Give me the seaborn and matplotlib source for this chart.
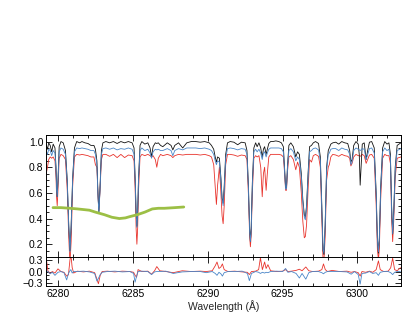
import matplotlib
matplotlib.use("Agg")
import matplotlib.pyplot as plt
from matplotlib.ticker import MultipleLocator, FixedLocator
import seaborn as sns

# spectrum grid (one row per feature group)
wave = [
    6279.20, 6279.30, 6279.38, 6279.48, 6279.58, 6279.68, 6279.80,
    6279.87, 6279.91, 6279.95, 6280.00, 6280.08, 6280.20, 6280.35,
    6280.50, 6280.62, 6280.72, 6280.80, 6280.88, 6280.98, 6281.10,
    6281.25, 6281.45, 6281.60, 6281.80, 6282.00, 6282.20,
    6282.40, 6282.50, 6282.60, 6282.67, 6282.73, 6282.80, 6282.90, 6283.00,
    6283.20, 6283.45, 6283.70, 6283.95, 6284.20, 6284.45, 6284.70, 6284.95,
    6285.08, 6285.16, 6285.22, 6285.27, 6285.32, 6285.38, 6285.48,
    6285.60, 6285.80, 6286.00, 6286.15, 6286.25, 6286.35, 6286.50, 6286.60, 6286.70, 6286.85,
    6287.00, 6287.30, 6287.55, 6287.67, 6287.80, 6288.05, 6288.33, 6288.60, 6288.90, 6289.20, 6289.50, 6289.80, 6290.10,
    6290.25, 6290.40, 6290.50, 6290.58, 6290.66, 6290.78, 6290.88, 6290.96, 6291.03, 6291.10, 6291.20, 6291.32,
    6291.50, 6291.75, 6292.00, 6292.25, 6292.50,
    6292.62, 6292.72, 6292.80, 6292.85, 6292.90, 6292.98, 6293.08,
    6293.20, 6293.30, 6293.42, 6293.54, 6293.64, 6293.72, 6293.80, 6293.90, 6293.98, 6294.08, 6294.20,
    6294.35, 6294.55, 6294.75, 6294.92,
    6295.05, 6295.13, 6295.20, 6295.26, 6295.33, 6295.42,
    6295.55, 6295.72, 6295.88, 6296.00, 6296.12, 6296.25, 6296.35, 6296.45, 6296.52, 6296.60, 6296.70, 6296.80, 6296.93, 6297.05,
    6297.20, 6297.40, 6297.52, 6297.62, 6297.70, 6297.76, 6297.84, 6297.94, 6298.05, 6298.12, 6298.22, 6298.35,
    6298.55, 6298.75, 6298.95, 6299.15, 6299.35,
    6299.48, 6299.56, 6299.64, 6299.75, 6299.90, 6300.05,
    6300.12, 6300.18, 6300.24, 6300.32, 6300.45, 6300.58, 6300.68, 6300.80, 6300.95,
    6301.12, 6301.25, 6301.33, 6301.40, 6301.46, 6301.55, 6301.68,
    6301.82, 6301.97, 6302.10,
    6302.20, 6302.28, 6302.35, 6302.42, 6302.52, 6302.65, 6302.90,
]

flux_black = [
    0.98, 0.94, 0.99, 0.97, 0.92, 0.98, 0.95,
    0.80, 0.64, 0.57, 0.70, 0.96, 1.00, 0.99,
    0.93, 0.70, 0.35, 0.15, 0.35, 0.72, 0.95,
    1.00, 0.99, 1.00, 0.99, 0.985, 0.97,
    0.97, 0.94, 0.85, 0.60, 0.45, 0.62, 0.93, 0.99,
    1.00, 0.99, 1.00, 0.985, 1.00, 0.99, 1.00, 0.99,
    0.95, 0.70, 0.45, 0.34, 0.45, 0.72, 0.97,
    1.00, 0.98, 0.99, 0.95, 0.88, 0.96, 0.99, 0.985, 0.99, 0.97,
    0.96, 0.99, 0.97, 0.935, 0.97, 0.99, 0.95, 0.99, 1.00, 1.00, 0.995, 1.00, 0.99,
    0.97, 0.94, 0.88, 0.84, 0.88, 0.87, 0.72, 0.56, 0.52, 0.65, 0.90, 0.99,
    1.00, 0.995, 0.975, 0.995, 0.99,
    0.93, 0.65, 0.32, 0.22, 0.32, 0.68, 0.95,
    0.99, 0.96, 0.99, 0.95, 0.88, 0.94, 0.96, 0.90, 0.94, 0.985, 1.00,
    1.00, 1.005, 1.00, 0.99,
    0.96, 0.80, 0.64, 0.64, 0.82, 0.97,
    0.99, 0.96, 0.88, 0.92, 0.90, 0.75, 0.55, 0.43, 0.41, 0.50, 0.75, 0.96, 0.97, 0.99,
    1.00, 0.985, 0.88, 0.50, 0.15, 0.12, 0.35, 0.80, 0.93, 0.95, 0.98, 0.99,
    0.995, 0.98, 1.00, 0.99, 0.985,
    0.93, 0.84, 0.86, 0.97, 1.00, 0.98,
    0.90, 0.66, 0.80, 0.98, 0.99, 0.86, 0.93, 0.995, 1.00,
    0.95, 0.60, 0.25, 0.13, 0.25, 0.65, 0.95,
    1.00, 0.98, 0.99,
    0.90, 0.50, 0.28, 0.45, 0.80, 0.97, 0.99,
]

flux_blue = [
    0.93, 0.90, 0.94, 0.93, 0.89, 0.93, 0.91,
    0.78, 0.62, 0.57, 0.68, 0.92, 0.95, 0.94,
    0.90, 0.68, 0.34, 0.14, 0.33, 0.70, 0.92,
    0.95, 0.945, 0.95, 0.945, 0.94, 0.93,
    0.93, 0.90, 0.82, 0.58, 0.44, 0.60, 0.90, 0.945,
    0.95, 0.94, 0.95, 0.935, 0.945, 0.94, 0.95, 0.94,
    0.90, 0.68, 0.44, 0.33, 0.44, 0.70, 0.93,
    0.95, 0.93, 0.94, 0.91, 0.87, 0.92, 0.94, 0.935, 0.94, 0.93,
    0.93, 0.945, 0.93, 0.89, 0.93, 0.945, 0.935, 0.95, 0.95, 0.95, 0.945, 0.95, 0.94,
    0.93, 0.90, 0.85, 0.82, 0.85, 0.84, 0.70, 0.55, 0.50, 0.62, 0.87, 0.945,
    0.95, 0.945, 0.935, 0.945, 0.94,
    0.90, 0.63, 0.30, 0.22, 0.30, 0.65, 0.92,
    0.94, 0.92, 0.94, 0.91, 0.86, 0.91, 0.92, 0.88, 0.91, 0.94, 0.95,
    0.95, 0.95, 0.95, 0.945,
    0.92, 0.78, 0.63, 0.63, 0.80, 0.93,
    0.945, 0.92, 0.85, 0.88, 0.86, 0.72, 0.53, 0.41, 0.39, 0.48, 0.72, 0.92, 0.93, 0.945,
    0.95, 0.935, 0.85, 0.48, 0.16, 0.13, 0.33, 0.77, 0.90, 0.91, 0.94, 0.945,
    0.945, 0.93, 0.95, 0.94, 0.935,
    0.90, 0.82, 0.84, 0.93, 0.95, 0.94,
    0.935, 0.93, 0.935, 0.945, 0.94, 0.86, 0.90, 0.945, 0.95,
    0.91, 0.58, 0.24, 0.14, 0.24, 0.62, 0.92,
    0.95, 0.93, 0.94,
    0.87, 0.48, 0.28, 0.43, 0.77, 0.93, 0.945,
]

flux_red = [
    0.74, 0.80, 0.86, 0.88, 0.87, 0.88, 0.85,
    0.72, 0.56, 0.50, 0.62, 0.87, 0.90, 0.89,
    0.86, 0.62, 0.25, 0.05, 0.22, 0.65, 0.88,
    0.90, 0.895, 0.90, 0.895, 0.89, 0.88,
    0.88, 0.82, 0.80, 0.58, 0.46, 0.60, 0.86, 0.90,
    0.90, 0.885, 0.90, 0.875, 0.90, 0.875, 0.895, 0.89,
    0.85, 0.60, 0.32, 0.20, 0.32, 0.62, 0.88,
    0.90, 0.89, 0.90, 0.89, 0.88, 0.89, 0.86, 0.80, 0.87, 0.90,
    0.89, 0.90, 0.89, 0.875, 0.89, 0.90, 0.895, 0.90, 0.90, 0.90, 0.895, 0.90, 0.89,
    0.88, 0.82, 0.65, 0.51, 0.66, 0.80, 0.60, 0.42, 0.36, 0.50, 0.82, 0.90,
    0.90, 0.895, 0.885, 0.895, 0.89,
    0.86, 0.58, 0.26, 0.18, 0.26, 0.60, 0.87,
    0.89, 0.88, 0.89, 0.80, 0.57, 0.75, 0.80, 0.62, 0.75, 0.88, 0.90,
    0.90, 0.90, 0.90, 0.895,
    0.88, 0.76, 0.62, 0.62, 0.77, 0.88,
    0.89, 0.86, 0.78, 0.84, 0.80, 0.60, 0.38, 0.25, 0.26, 0.35, 0.62, 0.86, 0.84, 0.89,
    0.90, 0.885, 0.80, 0.40, 0.08, 0.07, 0.25, 0.70, 0.80, 0.82, 0.88, 0.90,
    0.895, 0.885, 0.90, 0.89, 0.885,
    0.87, 0.81, 0.83, 0.88, 0.90, 0.89,
    0.89, 0.885, 0.89, 0.90, 0.89, 0.83, 0.86, 0.895, 0.90,
    0.87, 0.50, 0.16, 0.08, 0.16, 0.55, 0.87,
    0.90, 0.89, 0.89,
    0.83, 0.40, 0.22, 0.38, 0.72, 0.87, 0.88,
]

# smooth green curve
green_wave = [6279.67, 6280.2, 6280.8, 6281.3, 6281.7, 6282.1, 6282.5, 6283.1, 6283.6, 6284.1,
              6284.5, 6284.8, 6285.3, 6285.8, 6286.3, 6286.7, 6287.1, 6287.8, 6288.4]
green_flux = [0.485, 0.485, 0.48, 0.475, 0.47, 0.465, 0.45, 0.43, 0.41, 0.40,
              0.405, 0.415, 0.43, 0.45, 0.475, 0.48, 0.48, 0.485, 0.49]

# residuals (lower panel)
res_wave = [
    6279.20, 6279.33, 6279.47, 6279.62, 6279.80, 6280.00, 6280.20, 6280.40, 6280.58, 6280.70,
    6280.80, 6280.86, 6280.95, 6281.05, 6281.30, 6281.70, 6282.10, 6282.45, 6282.60, 6282.70,
    6282.82, 6282.95, 6283.30, 6283.80, 6284.30, 6284.80, 6285.05, 6285.15, 6285.25, 6285.35,
    6285.60, 6286.00, 6286.25, 6286.45, 6286.60, 6286.80, 6287.20, 6287.70, 6288.30, 6288.90,
    6289.50, 6289.90, 6290.30, 6290.50, 6290.62, 6290.75, 6290.88, 6290.98, 6291.10, 6291.35,
    6291.80, 6292.30, 6292.65, 6292.78, 6292.92, 6293.20, 6293.40, 6293.52, 6293.65, 6293.80,
    6293.90, 6294.02, 6294.20, 6294.60, 6295.00, 6295.20, 6295.35, 6295.60, 6295.90, 6296.12,
    6296.30, 6296.55, 6296.75, 6297.00, 6297.40, 6297.62, 6297.73, 6297.85, 6298.00, 6298.30,
    6298.80, 6299.30, 6299.58, 6299.80, 6300.05, 6300.18, 6300.30, 6300.55, 6300.80, 6301.02,
    6301.25, 6301.40, 6301.52, 6301.75, 6302.05, 6302.22, 6302.35, 6302.48, 6302.65, 6302.87,
]
res_red = [
    0.40, 0.02, -0.05, 0.00, -0.04, 0.07, 0.00, -0.02, -0.12, -0.08,
    0.30, 0.45, 0.10, -0.04, 0.01, -0.01, 0.01, -0.03, -0.20, -0.32,
    -0.10, 0.00, 0.01, -0.01, 0.01, 0.00, -0.02, -0.10, -0.15, 0.05,
    0.00, 0.01, -0.07, 0.02, 0.13, 0.02, 0.00, -0.03, 0.02, 0.00,
    0.01, 0.00, 0.02, 0.15, 0.25, 0.08, 0.12, 0.20, 0.05, 0.00,
    0.01, -0.01, -0.02, -0.08, 0.00, 0.01, 0.05, 0.36, 0.05, 0.25,
    0.08, 0.18, 0.02, 0.00, 0.01, 0.05, 0.00, 0.01, 0.03, 0.06,
    0.02, 0.12, 0.02, 0.00, 0.01, 0.05, 0.20, 0.05, 0.00, 0.03,
    0.00, 0.01, -0.02, 0.00, -0.03, -0.12, 0.00, -0.02, 0.01, -0.02,
    0.05, 0.28, 0.05, 0.00, 0.01, 0.10, 0.35, 0.05, 0.02, 0.10,
]
res_blue = [
    0.02, 0.00, -0.06, -0.02, -0.10, -0.02, 0.00, -0.03, -0.22, -0.05,
    0.02, 0.05, -0.04, 0.00, 0.00, 0.01, -0.01, -0.05, -0.25, -0.18,
    -0.08, -0.02, 0.00, 0.01, -0.01, 0.00, -0.05, -0.28, -0.12, 0.00,
    0.01, 0.00, -0.08, -0.01, 0.00, 0.00, 0.01, -0.05, -0.01, 0.00,
    0.00, -0.03, 0.00, -0.05, -0.10, -0.02, -0.06, -0.12, -0.03, 0.00,
    0.00, 0.01, -0.05, -0.24, -0.05, 0.00, -0.02, -0.05, -0.02, -0.04,
    -0.02, -0.03, 0.00, 0.01, 0.00, 0.08, -0.02, 0.00, -0.05, -0.17,
    -0.05, -0.20, -0.03, 0.00, 0.00, -0.03, -0.06, -0.02, 0.00, 0.00,
    0.00, -0.01, -0.07, 0.00, -0.08, -0.33, -0.05, -0.04, 0.00, -0.05,
    -0.03, -0.10, -0.02, 0.00, 0.00, -0.03, -0.08, -0.02, 0.00, 0.00,
]

C_BLACK = "#111111"
C_BLUE = "#4a86c8"
C_RED = "#e8332c"
C_GREEN = "#9cbf45"

sns.set_theme(style="ticks")
plt.rcParams["font.family"] = ["Liberation Sans", "DejaVu Sans"]
plt.rcParams["font.size"] = 7.5
plt.rcParams["axes.linewidth"] = 0.7

fig = plt.figure(figsize=(4.07, 3.15), dpi=100)
ax = fig.add_axes([0.113, 0.184, 0.872, 0.387])
axr = fig.add_axes([0.113, 0.092, 0.872, 0.092], sharex=ax)

# ---------------------------------
# Spectra
# ---------------------------------

sns.lineplot(x=wave, y=flux_red, ax=ax, color=C_RED, lw=0.6, sort=False, estimator=None)
sns.lineplot(x=wave, y=flux_black, ax=ax, color=C_BLACK, lw=0.6, sort=False, estimator=None)
sns.lineplot(x=wave, y=flux_blue, ax=ax, color=C_BLUE, lw=0.6, sort=False, estimator=None)
sns.lineplot(x=green_wave, y=green_flux, ax=ax, color=C_GREEN, lw=2.0, sort=False, estimator=None)

# ---------------------------------
# Residuals
# ---------------------------------

sns.lineplot(x=res_wave, y=res_red, ax=axr, color=C_RED, lw=0.6, sort=False, estimator=None)
sns.lineplot(x=res_wave, y=res_blue, ax=axr, color=C_BLUE, lw=0.6, sort=False, estimator=None)

ax.set_xlim(6279.2, 6302.9)
ax.set_ylim(0.1, 1.05)
axr.set_ylim(-0.38, 0.38)

ax.yaxis.set_major_locator(FixedLocator([0.2, 0.4, 0.6, 0.8, 1.0]))
ax.yaxis.set_minor_locator(MultipleLocator(0.05))
axr.yaxis.set_major_locator(FixedLocator([-0.3, 0.0, 0.3]))
axr.yaxis.set_minor_locator(MultipleLocator(0.1))
axr.set_yticklabels(["\u22120.3", "0.0", "0.3"])
ax.xaxis.set_major_locator(MultipleLocator(5))
ax.xaxis.set_minor_locator(MultipleLocator(1))

for a in (ax, axr):
    a.tick_params(which="both", direction="in", top=True, right=True,
                  width=0.6, labelsize=7.5, pad=2, colors="black")
    a.tick_params(which="major", length=4)
    a.tick_params(which="minor", length=2)
    a.set_ylabel("")
    for s in a.spines.values():
        s.set_color("black")

ax.tick_params(labelbottom=False)
ax.set_xlabel("")
axr.set_xlabel("Wavelength (\u00c5)", fontsize=7.5, labelpad=1)

fig.savefig("out.png", dpi=100)
